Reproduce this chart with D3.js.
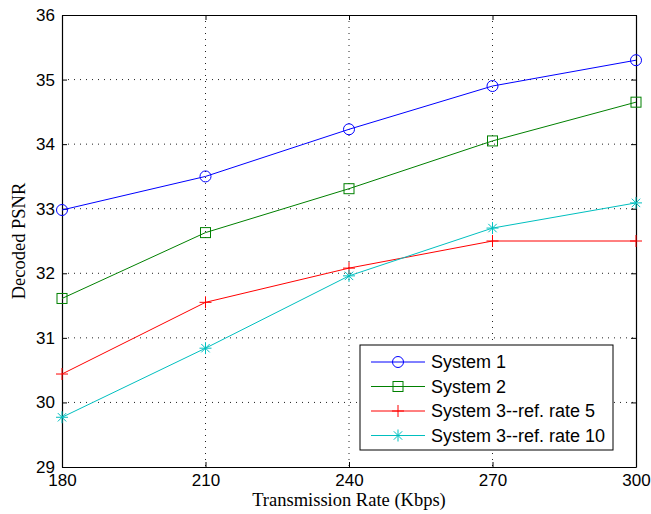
<!DOCTYPE html>
<html>
<head>
<meta charset="utf-8">
<script src="https://cdn.jsdelivr.net/npm/d3@7"></script>
<style>
body { margin: 0; background: #fff; }
svg { display: block; }
.tick-label { font-family: "Liberation Sans", Arial, sans-serif; font-size: 17px; fill: #000; }
.axis-title { font-family: "Liberation Serif", "Times New Roman", serif; font-size: 18.5px; fill: #000; }
.legend-text { font-family: "Liberation Sans", Arial, sans-serif; font-size: 18px; fill: #000; }
</style>
</head>
<body>
<svg width="651" height="514"></svg>
<script>
var rates = [180, 210, 240, 270, 300];
var xTicks = [180, 210, 240, 270, 300];
var yTicks = [29, 30, 31, 32, 33, 34, 35, 36];

var system1 = [32.98, 33.5, 34.23, 34.9, 35.3];
var system2 = [31.61, 32.63, 33.31, 34.05, 34.65];
var system3r5 = [30.44, 31.55, 32.08, 32.5, 32.5];
var system3r10 = [29.77, 30.84, 31.96, 32.7, 33.09];

var seriesNames = ["System 1", "System 2", "System 3--ref. rate 5", "System 3--ref. rate 10"];
var seriesValues = [system1, system2, system3r5, system3r10];
var seriesColors = ["#0000ff", "#008000", "#ff0000", "#00bfbf"];
var seriesMarkers = ["circle", "square", "plus", "star"];

var svg = d3.select("svg");
var plotLeft = 62, plotRight = 636, plotTop = 15, plotBottom = 467;

var x = d3.scaleLinear().domain([180, 300]).range([plotLeft, plotRight]);
var y = d3.scaleLinear().domain([29, 36]).range([plotBottom, plotTop]);

// grid lines (dotted)
var grid = svg.append("g");
grid.selectAll(".vgrid")
	.data(xTicks.slice(1, -1))
	.enter().append("line")
	.attr("x1", function(d) { return x(d); })
	.attr("x2", function(d) { return x(d); })
	.attr("y1", plotTop)
	.attr("y2", plotBottom)
	.attr("stroke", "#222")
	.attr("stroke-width", 1)
	.attr("stroke-dasharray", "1,5");
grid.selectAll(".hgrid")
	.data(yTicks.slice(1, -1))
	.enter().append("line")
	.attr("x1", plotLeft)
	.attr("x2", plotRight)
	.attr("y1", function(d) { return y(d); })
	.attr("y2", function(d) { return y(d); })
	.attr("stroke", "#222")
	.attr("stroke-width", 1)
	.attr("stroke-dasharray", "1,5");

// axes, ticks pointing inward, on all four sides
var fmt = d3.format("d");
var axisBottom = d3.axisBottom(x).tickValues(xTicks).tickFormat(fmt).tickSizeInner(-5).tickSizeOuter(0).tickPadding(7);
var axisTop = d3.axisTop(x).tickValues(xTicks).tickSizeInner(-5).tickSizeOuter(0).tickFormat("");
var axisLeft = d3.axisLeft(y).tickValues(yTicks).tickFormat(fmt).tickSizeInner(-5).tickSizeOuter(0).tickPadding(7);
var axisRight = d3.axisRight(y).tickValues(yTicks).tickSizeInner(-5).tickSizeOuter(0).tickFormat("");

var gb = svg.append("g").attr("transform", "translate(0," + plotBottom + ")").call(axisBottom);
var gt = svg.append("g").attr("transform", "translate(0," + plotTop + ")").call(axisTop);
var gl = svg.append("g").attr("transform", "translate(" + plotLeft + ",0)").call(axisLeft);
var gr = svg.append("g").attr("transform", "translate(" + plotRight + ",0)").call(axisRight);

[gb, gt, gl, gr].forEach(function(g) {
	g.attr("font-family", null).attr("font-size", null);
	g.select(".domain").attr("stroke", "#000").attr("stroke-width", 1.2);
	g.selectAll(".tick line").attr("stroke", "#000");
	g.selectAll(".tick text").attr("class", "tick-label");
});

// axis titles
svg.append("text")
	.attr("class", "axis-title")
	.attr("x", (plotLeft + plotRight) / 2)
	.attr("y", 506)
	.attr("text-anchor", "middle")
	.text("Transmission Rate (Kbps)");

svg.append("text")
	.attr("class", "axis-title")
	.attr("transform", "translate(25," + (plotTop + plotBottom) / 2 + ") rotate(-90)")
	.attr("text-anchor", "middle")
	.text("Decoded PSNR");

function drawMarker(g, type, color, cx, cy) {
	if (type === "circle") {
		g.append("circle").attr("cx", cx).attr("cy", cy).attr("r", 5.5)
			.attr("fill", "none").attr("stroke", color).attr("stroke-width", 1);
	} else if (type === "square") {
		g.append("rect").attr("x", cx - 5).attr("y", cy - 5).attr("width", 10).attr("height", 10)
			.attr("fill", "none").attr("stroke", color).attr("stroke-width", 1);
	} else if (type === "plus") {
		g.append("path").attr("d", "M" + (cx - 6) + "," + cy + "H" + (cx + 6) + "M" + cx + "," + (cy - 6) + "V" + (cy + 6))
			.attr("stroke", color).attr("stroke-width", 1);
	} else {
		var r = 6, d = 4.2;
		g.append("path").attr("d",
			"M" + (cx - r) + "," + cy + "H" + (cx + r) +
			"M" + cx + "," + (cy - r) + "V" + (cy + r) +
			"M" + (cx - d) + "," + (cy - d) + "L" + (cx + d) + "," + (cy + d) +
			"M" + (cx - d) + "," + (cy + d) + "L" + (cx + d) + "," + (cy - d))
			.attr("stroke", color).attr("stroke-width", 1);
	}
}

var line = d3.line()
	.x(function(d, i) { return x(rates[i]); })
	.y(function(d) { return y(d); });

seriesValues.forEach(function(vals, s) {
	var g = svg.append("g");
	g.append("path")
		.datum(vals)
		.attr("d", line)
		.attr("fill", "none")
		.attr("stroke", seriesColors[s])
		.attr("stroke-width", 1);
	vals.forEach(function(v, i) {
		drawMarker(g, seriesMarkers[s], seriesColors[s], x(rates[i]), y(v));
	});
});

// legend
var lg = svg.append("g");
lg.append("rect")
	.attr("x", 360).attr("y", 345)
	.attr("width", 253).attr("height", 105)
	.attr("fill", "#fff").attr("stroke", "#000").attr("stroke-width", 1);

seriesNames.forEach(function(name, i) {
	var ly = 362 + i * 24.5;
	lg.append("line")
		.attr("x1", 371).attr("x2", 425)
		.attr("y1", ly).attr("y2", ly)
		.attr("stroke", seriesColors[i]).attr("stroke-width", 1);
	drawMarker(lg, seriesMarkers[i], seriesColors[i], 398, ly);
	lg.append("text")
		.attr("class", "legend-text")
		.attr("x", 431)
		.attr("y", ly)
		.attr("dy", "0.36em")
		.text(name);
});
</script>
</body>
</html>
